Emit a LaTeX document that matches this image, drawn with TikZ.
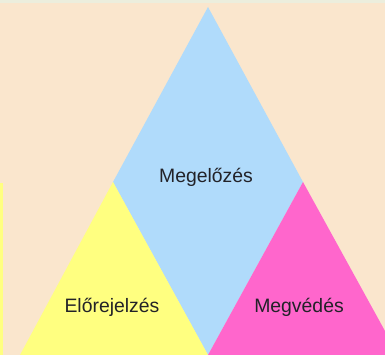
\documentclass[tikz,border=0pt]{standalone}
\usepackage{fontspec}
\setmainfont{Liberation Sans}
\definecolor{bgbeige}{HTML}{FAE6CD}
\definecolor{topline}{HTML}{ECEEDD}
\definecolor{blueface}{HTML}{B0DBFB}
\definecolor{yellowface}{HTML}{FFFF80}
\definecolor{pinkface}{HTML}{FF66CC}
\definecolor{labelink}{HTML}{222228}
\tikzset{
  label text/.style={font=\fontsize{19.4}{23}\selectfont, text=labelink, inner sep=0pt}
}
\begin{document}
\begin{tikzpicture}[x=1pt,y=-1pt]
  \useasboundingbox (0,0) rectangle (385,355);
  \fill [bgbeige] (0,0) rectangle (385,355);
  \fill [topline] (0,0) rectangle (385,3);
  \fill [yellowface] (0,183) rectangle (3,355);
  % three faces
  \fill [blueface] (208,7) -- (113,182) -- (208,355) -- (303,182) -- cycle;
  \fill [yellowface] (113,182) -- (20,355) -- (208,355) -- cycle;
  \fill [pinkface] (303,182) -- (208,355) -- (385,355) -- (385,331) -- cycle;
  \node [label text] (megelozes) at (206,177) {Megelőzés};
  \node [label text] (elorejelzes) at (112,307) {Előrejelzés};
  \node [label text] (megvedes) at (299,307) {Megvédés};
\end{tikzpicture}
\end{document}
